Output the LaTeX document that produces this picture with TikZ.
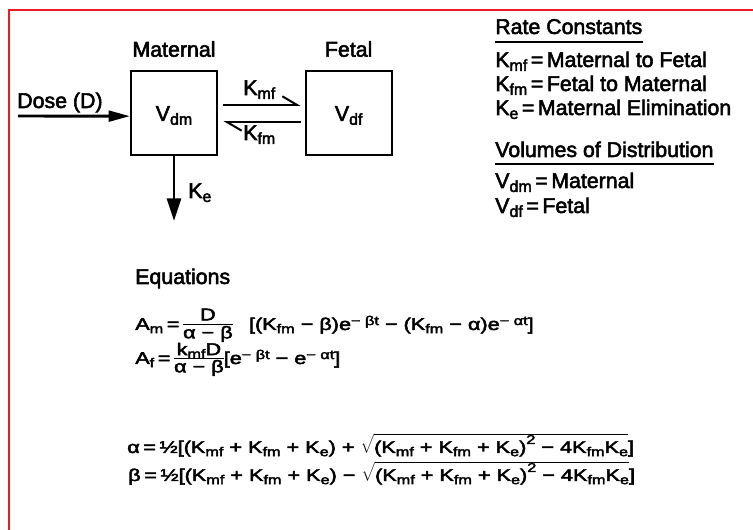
\documentclass[tikz,border=0pt]{standalone}
\usepackage{fontspec}
\setmainfont{Liberation Sans}[UprightFeatures={FakeBold=2.5}]
\usepackage{graphicx}
\usetikzlibrary{arrows.meta,positioning}
\definecolor{framered}{RGB}{236,28,36}
\newcommand{\lo}[1]{\raisebox{-0.35ex}[0pt][0pt]{\fontsize{12}{12}\selectfont #1}}
\newcommand{\hi}[2][0.55ex]{\raisebox{#1}[0pt][0pt]{\fontsize{12}{12}\selectfont #2}}
\newcommand{\rt}[1]{$\sqrt{\rule{0pt}{17pt}\smash{\mbox{#1}}}$}
\newcommand{\eqln}[1]{\scalebox{1.015}[0.8]{#1}}
\newlength{\frw}
\newlength{\frwb}
\newcommand{\fr}[3][9pt]{%
  \settowidth{\frw}{#2}\settowidth{\frwb}{#3}%
  \ifdim\frwb>\frw \setlength{\frw}{\frwb}\fi
  \rlap{\hbox to\frw{\hss\raisebox{#1}[0pt][0pt]{#2}\hss}}%
  \rlap{\raisebox{4.4pt}[0pt][0pt]{\rule{\frw}{1.1pt}}}%
  \hbox to\frw{\hss\raisebox{-7.8pt}[0pt][0pt]{#3}\hss}}
\tikzset{
  txt/.style={font=\fontsize{16}{18}\selectfont,inner sep=0pt,anchor=base west},
  ttl/.style={font=\fontsize{16}{18}\selectfont,inner sep=0pt},
  comp/.style={draw,line width=1.5pt,minimum width=64.5pt,minimum height=63pt,font=\fontsize{16}{18}\selectfont},
  flow/.style={-{Triangle[length=16pt,width=8pt]},line width=2.2pt},
  harp/.style={-{Straight Barb[harpoon,length=11pt,width=13pt]},line width=1.5pt},
}
\begin{document}
\begin{tikzpicture}[x=0.75pt,y=-0.75pt]
  \useasboundingbox (0,0) rectangle (753,530);
  % frame
  \draw[framered,line width=1.6pt] (9,540) -- (9,10) -- (760,10);
  % compartments
  \node[comp] (mat) at (174,113.5) {V\lo{dm}};
  \node[comp,right=65pt of mat] (fet) {V\lo{df}};
  \node[ttl,above=10pt of mat] (matlbl) {Maternal};
  \node[ttl,above=10pt of fet] (fetlbl) {Fetal};
  % dose in
  \coordinate (dosein) at (18,116);
  \node[txt] (doselbl) at (17,108) {Dose (D)};
  \draw[flow] (dosein) -- ([yshift=-2pt]mat.west);
  % exchange
  \draw[harp,shorten <=4pt,shorten >=3pt] ([yshift=6.4pt]mat.east) -- ([yshift=6.4pt]fet.west);
  \draw[harp,shorten <=3pt,shorten >=4pt] ([yshift=-6.4pt]fet.west) -- ([yshift=-6.4pt]mat.east);
  \node[txt] (kmf) at (243,95) {K\lo{mf}};
  \node[txt] (kfm) at (243,140) {K\lo{fm}};
  % elimination
  \coordinate (keout) at (175,221);
  \draw[-{Triangle[length=17pt,width=10.5pt]},line width=2.2pt] (mat.south) -- (mat.south |- keout);
  \node[txt] (ke) at (188,198) {K\lo{e}};
  % legend
  \node[txt] (rc) at (495,34) {Rate Constants};
  \draw[line width=1.5pt] ([yshift=-6pt]rc.south west) -- ([yshift=-6pt]rc.south east);
  \node[txt] (rc1) at (495,67) {K\lo{mf}\,=\,Maternal to Fetal};
  \node[txt] (rc2) at (495,91) {K\lo{fm}\,=\,Fetal to Maternal};
  \node[txt] (rc3) at (495,115) {K\lo{e}\,=\,Maternal Elimination};
  \node[txt] (vd) at (495,157) {Volumes of Distribution};
  \draw[line width=1.5pt] ([yshift=-5pt]vd.south west) -- ([yshift=-5pt]vd.south east);
  \node[txt] (vd1) at (495,188) {V\lo{dm}\,=\,Maternal};
  \node[txt] (vd2) at (495,213) {V\lo{df}\,=\,Fetal};
  % equations
  \node[txt] (eqs) at (135,284) {Equations};
  \node[txt] (am) at (135,330) {\eqln{A\lo{m}\,=\,\fr{D}{α − β}\hspace{12pt}[(K\lo{fm} − β)e\hi{− βt} − (K\lo{fm} − α)e\hi{− αt}]}};
  \node[txt] (af) at (135,364) {\eqln{A\lo{f}\,=\,\fr[8.3pt]{k\lo{mf}D}{α − β}[e\hi{− βt} − e\hi{− αt}]}};
  \node[txt] (alpha) at (127,453) {\eqln{α\,=\,½[(K\lo{mf} + K\lo{fm} + K\lo{e}) + \rt{(K\lo{mf} + K\lo{fm} + K\lo{e})\hi[1ex]{2} − 4K\lo{fm}K\lo{e}}]}};
  \node[txt] (beta) at (128,481) {\eqln{β\,=\,½[(K\lo{mf} + K\lo{fm} + K\lo{e}) − \rt{(K\lo{mf} + K\lo{fm} + K\lo{e})\hi[1ex]{2} − 4K\lo{fm}K\lo{e}}]}};
\end{tikzpicture}
\end{document}
